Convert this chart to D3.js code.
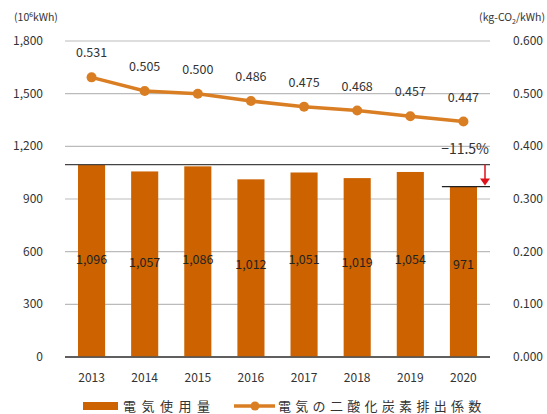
<!DOCTYPE html>
<html><head><meta charset="utf-8">
<script src="https://cdn.jsdelivr.net/npm/d3@7"></script>
<style>body{margin:0;background:#fff}text{font-family:"Noto Sans CJK JP","Noto Sans",sans-serif}</style>
</head><body><svg id="c" width="547" height="414"></svg>
<script>
const years = ["2013","2014","2015","2016","2017","2018","2019","2020"];
const usage = [1096,1057,1086,1012,1051,1019,1054,971];
const usageLabels = ["1,096","1,057","1,086","1,012","1,051","1,019","1,054","971"];
const factor = [0.531,0.505,0.500,0.486,0.475,0.468,0.457,0.447];
const leftTicks = [0,300,600,900,1200,1500,1800];
const rightTicks = [0,0.1,0.2,0.3,0.4,0.5,0.6];
const changeLabel = "−11.5%";
const legendLabels = ["電気使用量","電気の二酸化炭素排出係数"];

const svg = d3.select("#c");
const L=65, R=490, T=41, B=357;
const x = d3.scaleBand().domain(years).range([L,R]).paddingInner(0.49).paddingOuter(0.245);
const yL = d3.scaleLinear().domain([0,1800]).range([B,T]);
const yR = d3.scaleLinear().domain([0,0.6]).range([B,T]);
const barC="#cc6200", lineC="#da7e24";

// grid
svg.append("g").selectAll("line").data(leftTicks).join("line")
  .attr("x1",L).attr("x2",R).attr("y1",d=>yL(d)).attr("y2",d=>yL(d))
  .attr("stroke",d=>d===0?"#555":"#bbb").attr("stroke-width",d=>d===0?1.5:1.2);
// left labels
svg.append("g").selectAll("text").data(leftTicks).join("text")
  .attr("x",43).attr("y",d=>yL(d)+4).attr("text-anchor","end").attr("font-size",12).attr("fill","#333")
  .text(d=>d3.format(",")(d));
svg.append("g").selectAll("text").data(rightTicks).join("text")
  .attr("x",543).attr("y",d=>yR(d)+4).attr("text-anchor","end").attr("font-size",12).attr("fill","#333")
  .text(d=>d3.format(".3f")(d));
svg.append("text").attr("x",14).attr("y",21).attr("font-size",10.5).attr("fill","#333").text("(10⁶kWh)");
const ut = svg.append("text").attr("x",545).attr("y",21).attr("text-anchor","end").attr("font-size",10.5).attr("fill","#333");
ut.append("tspan").text("(kg-CO");
ut.append("tspan").attr("font-size",7).attr("dy",3).text("2");
ut.append("tspan").attr("dy",-3).text("/kWh)");

// bars
svg.append("g").selectAll("rect").data(usage).join("rect")
  .attr("x",(d,i)=>x(years[i])).attr("width",x.bandwidth())
  .attr("y",d=>yL(d)).attr("height",d=>B-yL(d)).attr("fill",barC);
svg.append("line").attr("x1",L).attr("x2",R).attr("y1",B).attr("y2",B).attr("stroke","#555").attr("stroke-width",1.5);
// bar labels
const lblOff=[0,3,0,5,0,3,0,5];
svg.append("g").selectAll("text").data(usageLabels).join("text")
  .attr("x",(d,i)=>x(years[i])+x.bandwidth()/2).attr("y",(d,i)=>yL(530)+lblOff[i])
  .attr("text-anchor","middle").attr("font-size",12.5).attr("fill","#222").text(d=>d);
// x labels
svg.append("g").selectAll("text").data(years).join("text")
  .attr("x",d=>x(d)+x.bandwidth()/2).attr("y",382).attr("text-anchor","middle")
  .attr("font-size",12).attr("fill","#333").text(d=>d);

// reference lines
svg.append("line").attr("x1",L).attr("x2",R).attr("y1",yL(usage[0])).attr("y2",yL(usage[0])).attr("stroke","#444").attr("stroke-width",1.3);
svg.append("line").attr("x1",x("2020")-8).attr("x2",R).attr("y1",yL(usage[7])).attr("y2",yL(usage[7])).attr("stroke","#222").attr("stroke-width",1.3);
const ax=485;
svg.append("line").attr("x1",ax).attr("x2",ax).attr("y1",yL(usage[0])).attr("y2",yL(usage[7])-6).attr("stroke","#e0101a").attr("stroke-width",1.5);
svg.append("path").attr("d",`M${ax-5},${yL(usage[7])-8}L${ax+5},${yL(usage[7])-8}L${ax},${yL(usage[7])-1}Z`).attr("fill","#e0101a");
svg.append("text").attr("x",489).attr("y",154).attr("text-anchor","end").attr("font-size",14).attr("fill","#333").text(changeLabel);

// line
const lineGen = d3.line().x((d,i)=>x(years[i])+x.bandwidth()/2).y(d=>yR(d));
svg.append("path").datum(factor).attr("d",lineGen).attr("fill","none").attr("stroke",lineC).attr("stroke-width",3.5);
svg.append("g").selectAll("circle").data(factor).join("circle")
  .attr("cx",(d,i)=>x(years[i])+x.bandwidth()/2).attr("cy",d=>yR(d)).attr("r",5).attr("fill",lineC);
svg.append("g").selectAll("text").data(factor).join("text")
  .attr("x",(d,i)=>x(years[i])+x.bandwidth()/2).attr("y",d=>yR(d)-20)
  .attr("text-anchor","middle").attr("font-size",12.5).attr("fill","#333").text(d=>d3.format(".3f")(d));

// legend
svg.append("rect").attr("x",83).attr("y",402).attr("width",35).attr("height",8).attr("fill",barC);
svg.append("text").attr("x",123).attr("y",411).attr("font-size",13).attr("letter-spacing",5.5).attr("fill","#333").text(legendLabels[0]);
svg.append("line").attr("x1",234).attr("x2",275).attr("y1",406).attr("y2",406).attr("stroke",lineC).attr("stroke-width",3.5);
svg.append("circle").attr("cx",255).attr("cy",406).attr("r",4.5).attr("fill",lineC);
svg.append("text").attr("x",278).attr("y",411).attr("font-size",13).attr("letter-spacing",4.3).attr("fill","#333").text(legendLabels[1]);
</script></body></html>
